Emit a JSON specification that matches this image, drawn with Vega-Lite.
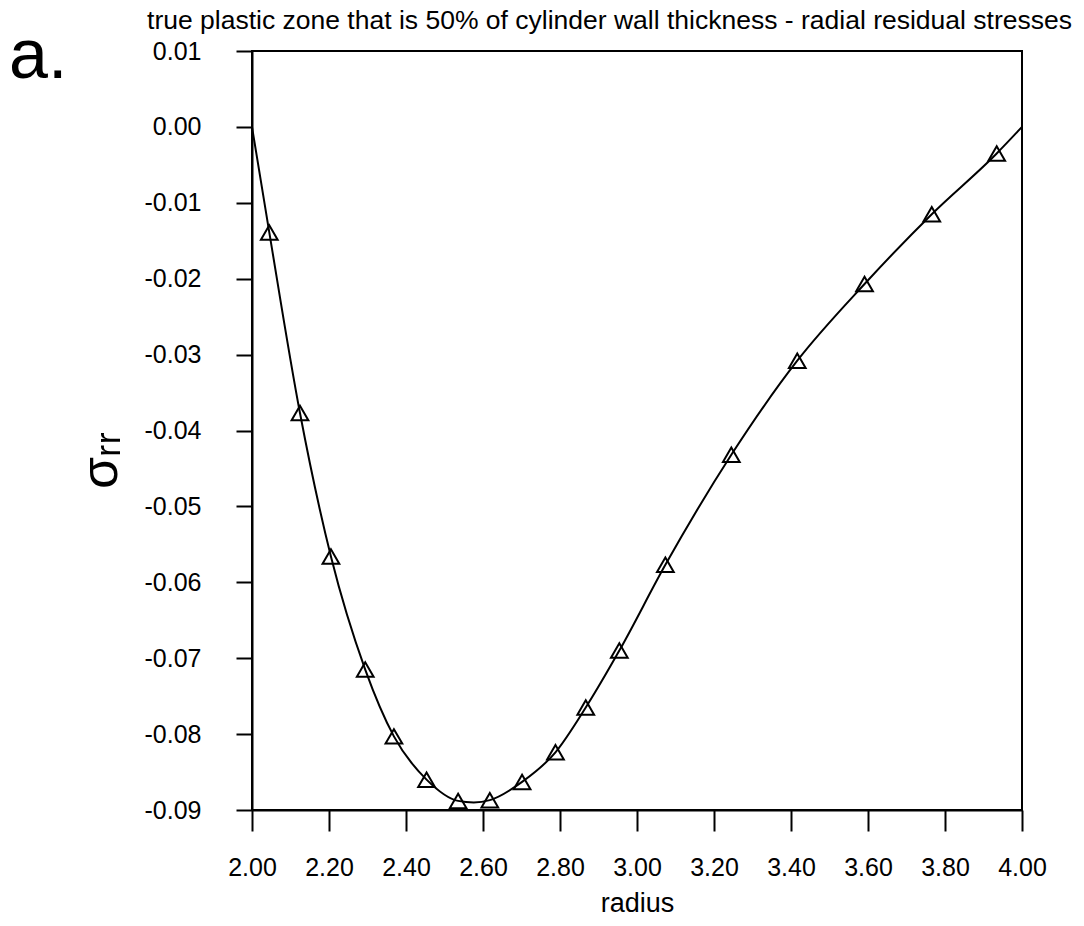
{
  "$schema": "https://vega.github.io/schema/vega-lite/v6.json",
  "width": 770,
  "height": 759,
  "autosize": {"type": "none"},
  "padding": {"left": 252, "top": 51, "right": 62, "bottom": 116},
  "background": "white",
  "datasets": {
    "curve": [
      {"r": 2.0, "s": 0.0},
      {"r": 2.0449, "s": -0.0139},
      {"r": 2.1246, "s": -0.0377},
      {"r": 2.205, "s": -0.0566},
      {"r": 2.2941, "s": -0.0715},
      {"r": 2.3686, "s": -0.0803},
      {"r": 2.4534, "s": -0.086},
      {"r": 2.5354, "s": -0.0888},
      {"r": 2.576, "s": -0.089},
      {"r": 2.6177, "s": -0.0887},
      {"r": 2.7015, "s": -0.0863},
      {"r": 2.7882, "s": -0.0824},
      {"r": 2.8669, "s": -0.0765},
      {"r": 2.9541, "s": -0.069},
      {"r": 3.0737, "s": -0.0577},
      {"r": 3.245, "s": -0.0432},
      {"r": 3.4163, "s": -0.0308},
      {"r": 3.591, "s": -0.0207},
      {"r": 3.7656, "s": -0.0115},
      {"r": 3.9343, "s": -0.0035},
      {"r": 4.0, "s": 0.0}
    ],
    "markers": [
      {"r": 2.0449, "s": -0.0139},
      {"r": 2.1246, "s": -0.0377},
      {"r": 2.205, "s": -0.0566},
      {"r": 2.2941, "s": -0.0715},
      {"r": 2.3686, "s": -0.0803},
      {"r": 2.4534, "s": -0.086},
      {"r": 2.5354, "s": -0.0888},
      {"r": 2.6177, "s": -0.0887},
      {"r": 2.7015, "s": -0.0863},
      {"r": 2.7882, "s": -0.0824},
      {"r": 2.8669, "s": -0.0765},
      {"r": 2.9541, "s": -0.069},
      {"r": 3.0737, "s": -0.0577},
      {"r": 3.245, "s": -0.0432},
      {"r": 3.4163, "s": -0.0308},
      {"r": 3.591, "s": -0.0207},
      {"r": 3.7656, "s": -0.0115},
      {"r": 3.9343, "s": -0.0035}
    ]
  },
  "title": {
    "text": "a.",
    "orient": "top",
    "anchor": "start",
    "frame": "group",
    "font": "Liberation Sans",
    "fontSize": 70,
    "fontWeight": "normal",
    "color": "black",
    "baseline": "alphabetic",
    "dx": -243,
    "dy": 145
  },
  "config": {
    "font": "Liberation Sans",
    "view": {"stroke": "black", "strokeWidth": 2},
    "axis": {
      "grid": false,
      "domainColor": "black",
      "domainWidth": 2,
      "tickColor": "black",
      "tickWidth": 2,
      "labelColor": "black",
      "titleColor": "black",
      "labelFont": "Liberation Sans",
      "titleFont": "Liberation Sans",
      "labelFontSize": 25,
      "titleFontWeight": "normal"
    }
  },
  "resolve": {"axis": {"x": "independent"}},
  "layer": [
    {
      "data": {"name": "curve"},
      "mark": {"type": "line", "interpolate": "monotone", "color": "black", "strokeWidth": 2},
      "encoding": {
        "x": {
          "field": "r",
          "type": "quantitative",
          "scale": {"domain": [2, 4], "nice": false, "zero": false},
          "axis": {
            "orient": "bottom",
            "title": "radius",
            "titleFontSize": 27,
            "titlePadding": 10,
            "values": [2.0, 2.2, 2.4, 2.6, 2.8, 3.0, 3.2, 3.4, 3.6, 3.8, 4.0],
            "format": ".2f",
            "tickSize": 21,
            "labelPadding": 24,
            "labelFlush": false,
            "labelOverlap": false
          }
        },
        "y": {
          "field": "s",
          "type": "quantitative",
          "scale": {"domain": [-0.09, 0.01], "nice": false, "zero": false},
          "axis": {
            "orient": "left",
            "title": "σᵣᵣ",
            "titleFontSize": 52,
            "titleX": -125,
            "titleY": 409,
            "values": [-0.09, -0.08, -0.07, -0.06, -0.05, -0.04, -0.03, -0.02, -0.01, 0.0, 0.01],
            "labelExpr": "replace(format(datum.value, '.2f'), '−', '-')",
            "tickSize": 16,
            "labelPadding": 35,
            "labelFlush": false,
            "labelOverlap": false
          }
        }
      }
    },
    {
      "data": {"name": "markers"},
      "mark": {"type": "point", "shape": "triangle-up", "filled": false, "color": "black", "strokeWidth": 2, "size": 280, "opacity": 1},
      "encoding": {
        "x": {
          "field": "r",
          "type": "quantitative",
          "axis": {
            "orient": "top",
            "title": "true plastic zone that is 50% of cylinder wall thickness - radial residual stresses",
            "titleFontSize": 26.5,
            "titleX": 357,
            "titleY": -23,
            "titleBaseline": "alphabetic",
            "labels": false,
            "ticks": false,
            "domain": false
          }
        },
        "y": {"field": "s", "type": "quantitative"}
      }
    }
  ]
}
